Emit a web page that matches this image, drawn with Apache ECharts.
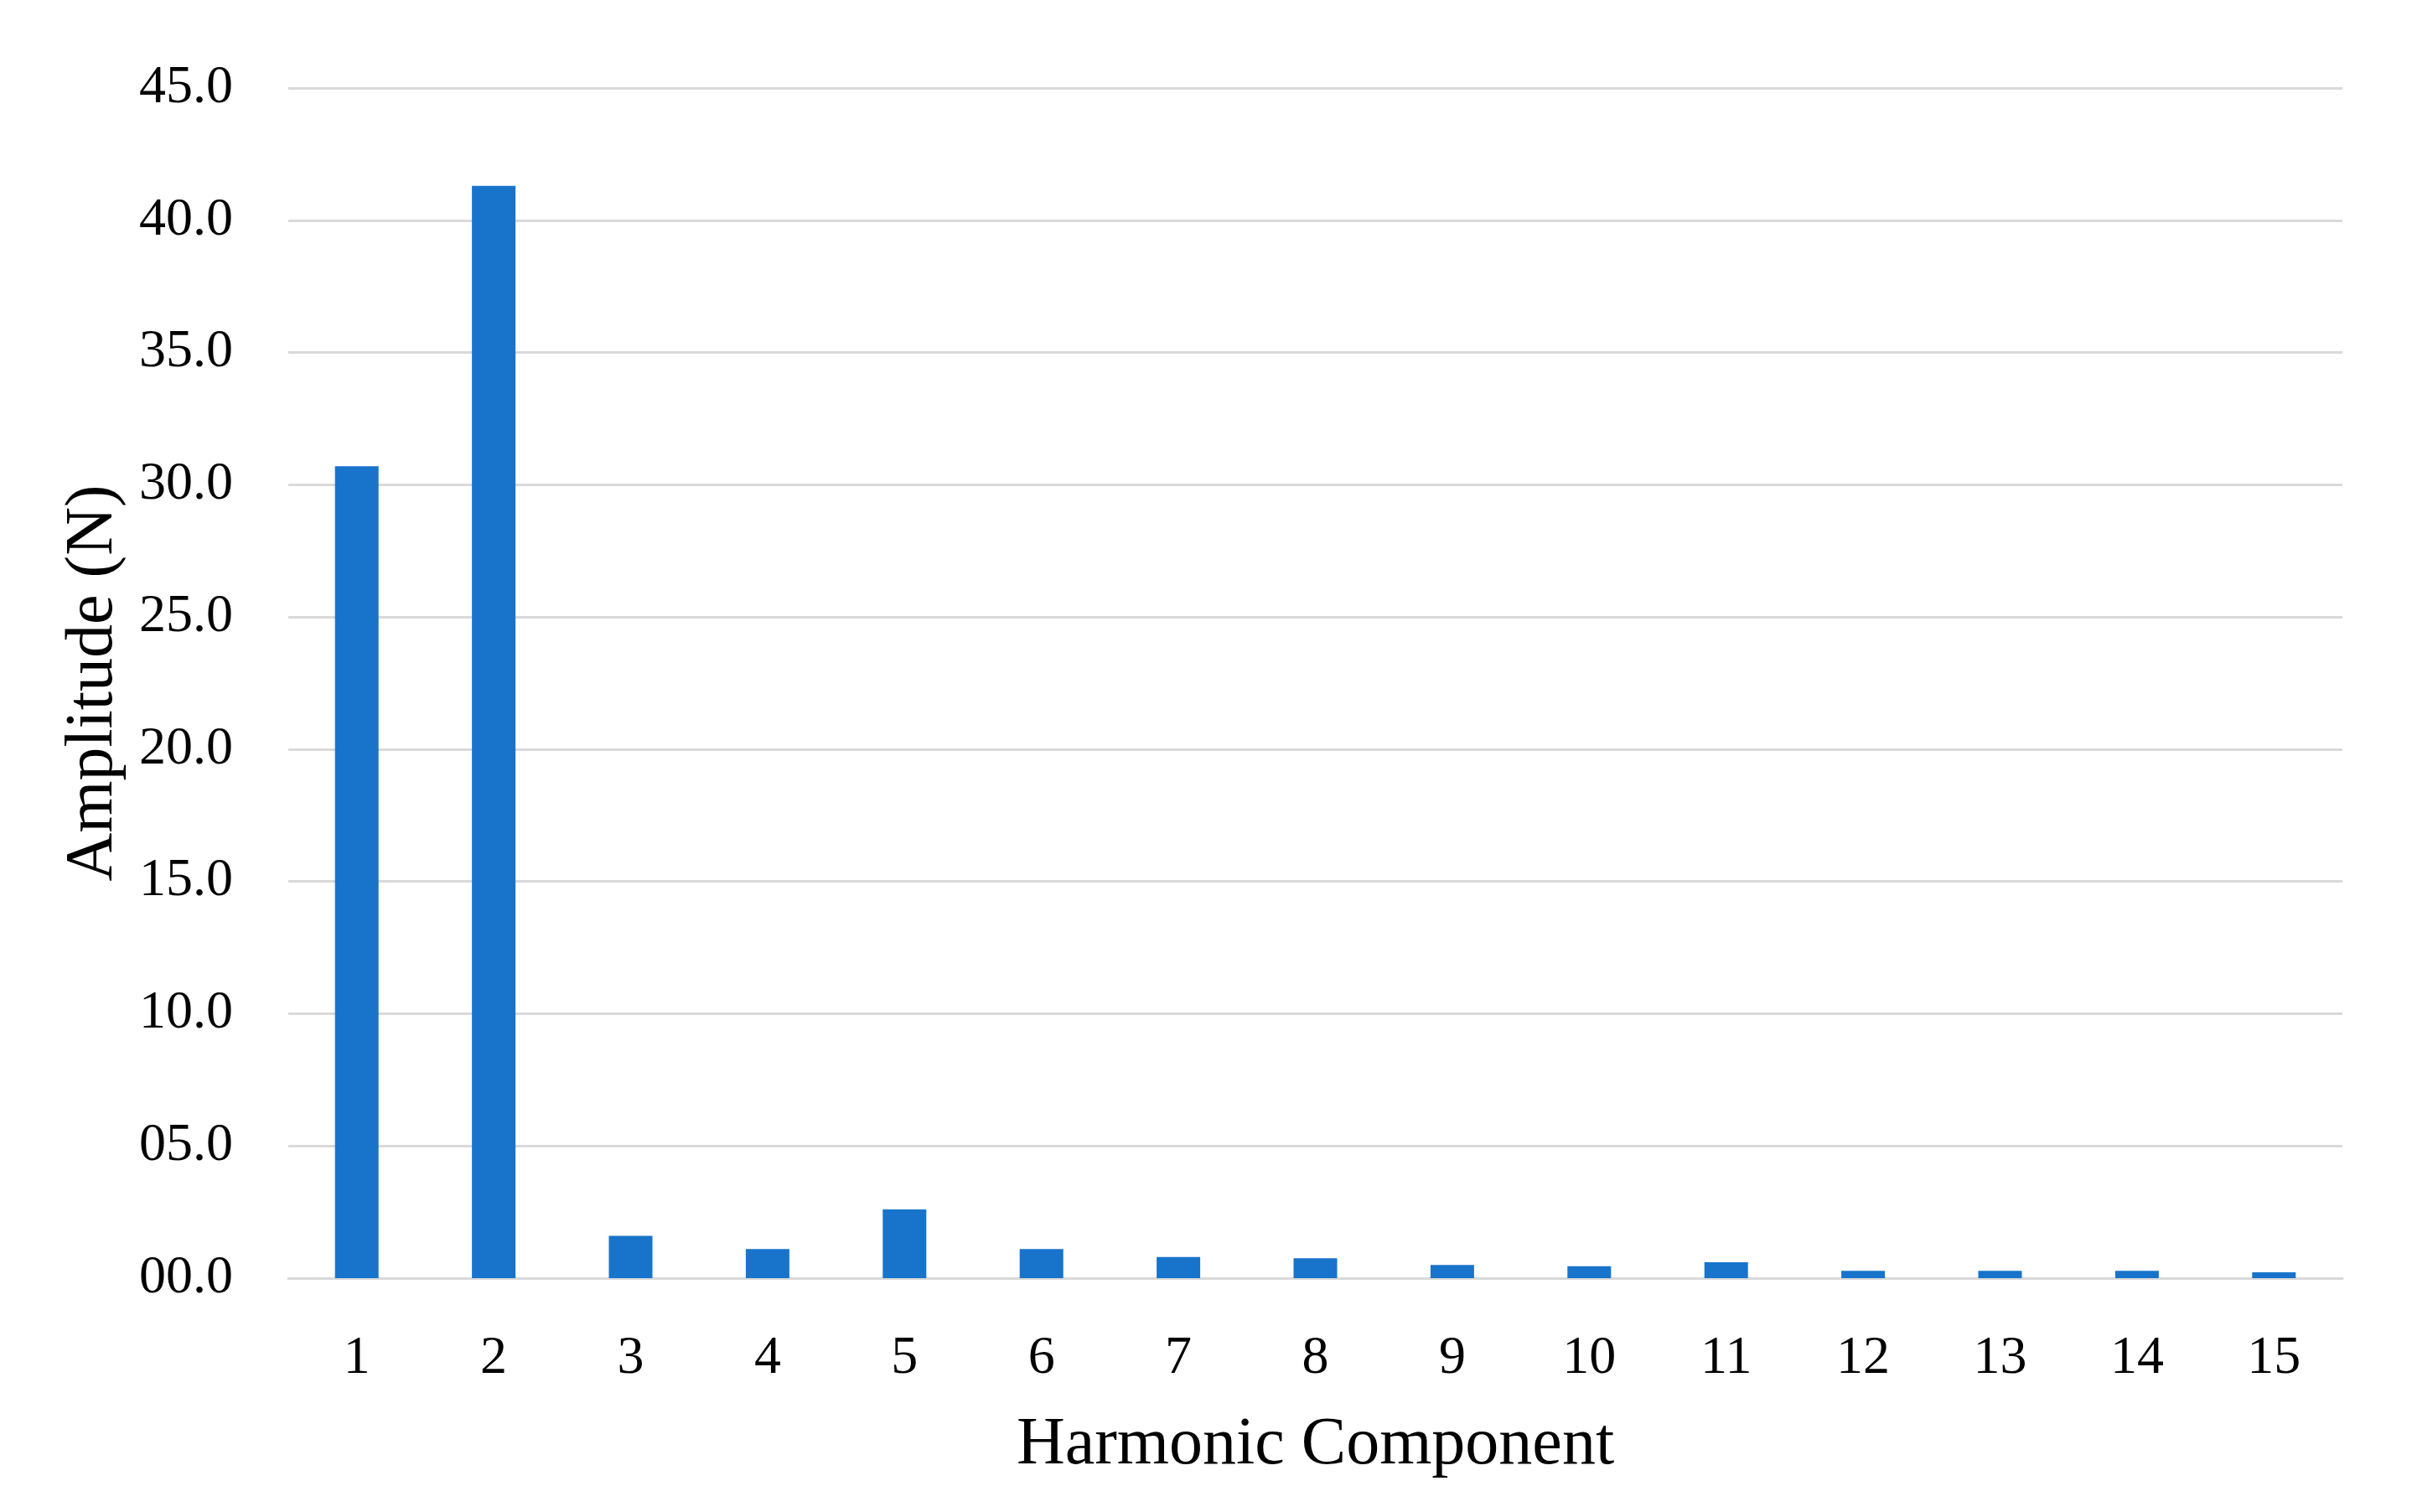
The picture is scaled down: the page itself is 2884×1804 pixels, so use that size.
<!DOCTYPE html>
<html>
<head>
<meta charset="utf-8">
<title>Harmonic Component</title>
<script src="https://cdn.jsdelivr.net/npm/echarts@6/dist/echarts.min.js"></script>
<style>
    html, body { margin: 0; padding: 0; background: #fff; }
    #chart { width: 2884px; height: 1804px; }
</style>
</head>
<body>
<div id="chart"></div>
<script>
    // harmonic orders on the x axis
    var harmonics = ['1','2','3','4','5','6','7','8','9','10','11','12','13','14','15'];
    // amplitude (N)
    var amplitudes = [30.7, 41.3, 1.6, 1.1, 2.6, 1.1, 0.8, 0.75, 0.5, 0.45, 0.6, 0.28, 0.28, 0.28, 0.22];

    var font = '"Liberation Serif", "DejaVu Serif", serif';

    var myChart = echarts.init(document.getElementById('chart'));
    myChart.setOption({
        backgroundColor: '#fff',
        animation: false,
        grid: {
            left: 344,
            right: 89,
            top: 105,
            bottom: 279
        },
        xAxis: {
            type: 'category',
            data: harmonics,
            name: 'Harmonic Component',
            nameLocation: 'middle',
            nameGap: 160,
            nameTextStyle: {
                fontFamily: font,
                fontSize: 80,
                color: '#000'
            },
            axisTick: { show: false },
            axisLine: {
                lineStyle: { color: '#d9d9d9', width: 3 }
            },
            axisLabel: {
                margin: 64,
                fontFamily: font,
                fontSize: 64,
                color: '#000'
            }
        },
        yAxis: {
            type: 'value',
            min: 0,
            max: 45,
            interval: 5,
            name: 'Amplitude (N)',
            nameLocation: 'middle',
            nameGap: 192,
            nameTextStyle: {
                fontFamily: font,
                fontSize: 80,
                color: '#000'
            },
            axisLine: { show: false },
            axisTick: { show: false },
            splitLine: {
                lineStyle: { color: '#d9d9d9', width: 3 }
            },
            axisLabel: {
                margin: 66,
                fontFamily: font,
                fontSize: 64,
                color: '#000',
                formatter: function (v) {
                    var s = v.toFixed(1);
                    return s.length < 4 ? '0' + s : s;
                }
            }
        },
        series: [
            {
                type: 'bar',
                data: amplitudes,
                barWidth: 52,
                itemStyle: {
                    color: '#1874CB'
                }
            }
        ]
    });
</script>
</body>
</html>
